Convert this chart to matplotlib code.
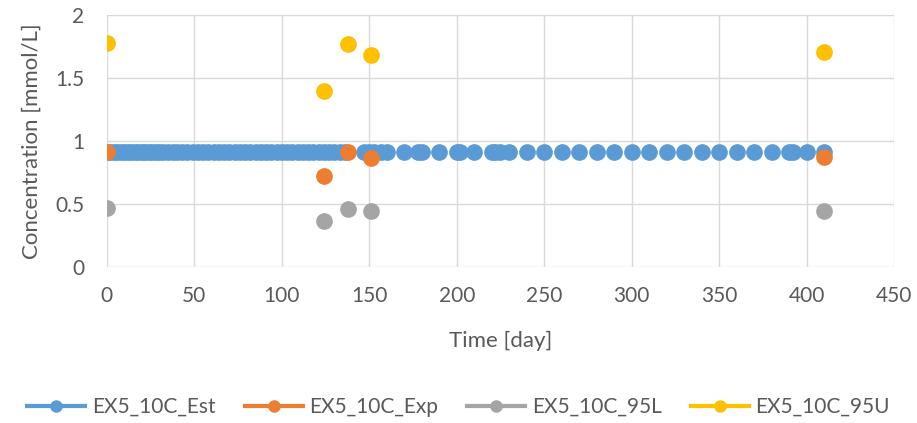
import matplotlib
matplotlib.use("Agg")
import matplotlib.pyplot as plt
from matplotlib.lines import Line2D
from matplotlib.ticker import FuncFormatter

# -- data
est_days = [0, 2, 4, 6, 8, 10, 12, 14, 16, 18, 20, 22, 24, 26, 28, 30, 32, 35,
            38, 40, 43, 46, 49, 52, 55, 58, 61, 64, 67, 70, 73, 76, 79, 82, 85,
            88, 91, 94, 97, 100, 103, 106, 109, 112, 115, 118, 121, 124, 127,
            130, 133, 136, 147, 150, 153, 157, 160, 170, 178, 180, 190, 200, 202,
            210, 220, 222, 225, 230, 240, 250, 260, 270, 280, 290, 300, 310, 320,
            330, 340, 350, 360, 370, 380, 390, 392, 400, 410]
est_conc = [0.915] * len(est_days)

sample_days = [0, 124, 138, 151, 410]
exp_conc = [0.915, 0.72, 0.913, 0.865, 0.87]
low_conc = [0.466, 0.365, 0.463, 0.447, 0.44]
up_conc = [1.775, 1.40, 1.767, 1.68, 1.71]

series_names = ["EX5_10C_Est", "EX5_10C_Exp", "EX5_10C_95L", "EX5_10C_95U"]
colors = ["#5B9BD5", "#ED7D31", "#A5A5A5", "#FFC000"]
text_color = "#595959"

plt.rcParams['font.family'] = ['Lato', 'DejaVu Sans']

fig = plt.figure(figsize=(9.17, 4.23), dpi=100)
ax = fig.add_axes([0.1165, 0.369, 0.8585, 0.5955])

ms = 11
ax.plot(est_days, est_conc, 'o', color=colors[0], markersize=ms, zorder=3)
ax.plot(sample_days, exp_conc, 'o', color=colors[1], markersize=ms, zorder=4)
ax.plot(sample_days, low_conc, 'o', color=colors[2], markersize=ms, zorder=4)
ax.plot(sample_days, up_conc, 'o', color=colors[3], markersize=ms, zorder=4)

ax.set_xlim(0, 450)
ax.set_ylim(0, 2)
ax.set_xticks(range(0, 451, 50))
ax.set_yticks([0, 0.5, 1, 1.5, 2])
ax.yaxis.set_major_formatter(FuncFormatter(lambda v, p: f"{v:g}"))

ax.grid(True, color="#D9D9D9", linewidth=1)
ax.set_axisbelow(True)
for s in ax.spines.values():
    s.set_visible(False)
ax.tick_params(length=0, labelsize=15, colors=text_color)
ax.tick_params(axis='x', pad=14)
ax.tick_params(axis='y', pad=16)

ax.set_xlabel("Time [day]", fontsize=16, color=text_color, labelpad=18)
ax.set_ylabel("Concentration [mmol/L]", fontsize=16, color=text_color, labelpad=10)

# legend shows line + marker like the spreadsheet chart
handles = [Line2D([0], [0], color=c, marker='o', markersize=8, linewidth=3)
           for c in colors]
fig.legend(handles, series_names, loc='center', bbox_to_anchor=(0.5, 0.038),
           ncol=4, frameon=False, fontsize=15, labelcolor=text_color,
           handlelength=2.8, handletextpad=0.3, columnspacing=1.4)

fig.savefig("out.png", dpi=100)
